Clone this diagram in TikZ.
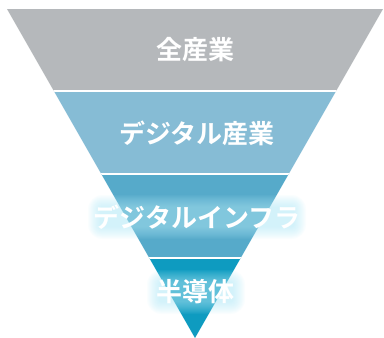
\documentclass[tikz,border=0pt]{standalone}
\usepackage{fontspec}
\newfontfamily\jp{Noto Sans CJK JP Bold}
\definecolor{bandA}{HTML}{B5B8BB}
\definecolor{bandB}{HTML}{86BCD5}
\definecolor{bandC}{HTML}{56AACA}
\definecolor{bandD}{HTML}{0E9BC0}
\definecolor{glowc}{HTML}{AEE7F6}
\tikzset{
  lbl/.style={text=white, font=\jp\fontsize{26}{30}\selectfont, inner sep=0pt},
  gap/.style={white, line width=2pt},
  glowlayer/.style={fill=glowc, fill opacity=0.06, draw=none}
}
% #1 centre x, #2 centre y, #3 half width, #4 half height
\newcommand\glowbox[4]{%
  \foreach \r in {0,...,12}{%
    \fill[glowlayer, rounded corners=\r pt+2pt]
      ({#1-#3-\r},{#2-#4-\r}) rectangle ({#1+#3+\r},{#2+#4+\r});
  }%
}
\begin{document}
\begin{tikzpicture}[x=1pt,y=-1pt]
\useasboundingbox (0,0) rectangle (384,338);
\coordinate (TL) at (7,9);
\coordinate (TR) at (383,9);
\coordinate (AP) at (195,338);
\begin{scope}
  \clip (TL) -- (TR) -- (AP) -- cycle;
  \fill[bandA] (0,0) rectangle (384,91);
  \fill[bandB] (0,91) rectangle (384,174);
  \fill[bandC] (0,174) rectangle (384,258);
  \fill[bandD] (0,258) rectangle (384,340);
  \draw[gap] (0,91) -- (384,91);
  \draw[gap] (0,174) -- (384,174);
  \draw[gap] (0,258) -- (384,258);
\end{scope}
\glowbox{197}{217}{97}{10}
\glowbox{196}{292}{37}{10}
\node[lbl] (all) at (196,50) {全産業};
\node[lbl] (dig) at (197,133) {デジタル産業};
\node[lbl] (infra) at (197,217) {デジタルインフラ};
\node[lbl] (semi) at (196,292) {半導体};
\end{tikzpicture}
\end{document}
